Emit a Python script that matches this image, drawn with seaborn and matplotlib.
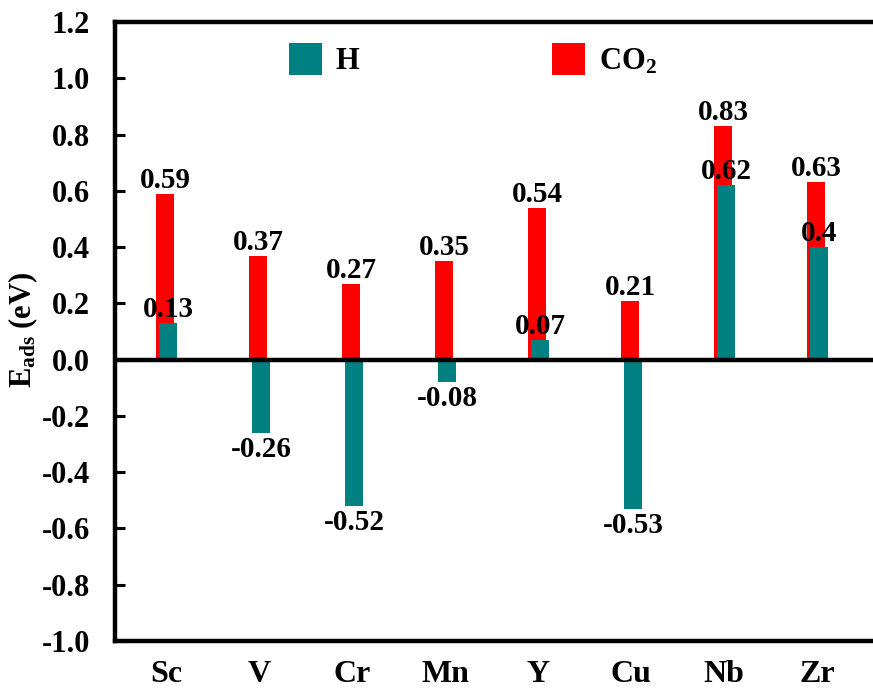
import matplotlib
matplotlib.use("Agg")
import matplotlib.pyplot as plt
from matplotlib.patches import Patch
import seaborn as sns
import pandas as pd
import numpy as np

metals = ["Sc", "V", "Cr", "Mn", "Y", "Cu", "Nb", "Zr"]
h_vals = [0.13, -0.26, -0.52, -0.08, 0.07, -0.53, 0.62, 0.4]
co2_vals = [0.59, 0.37, 0.27, 0.35, 0.54, 0.21, 0.83, 0.63]
yticks = [-1.0, -0.8, -0.6, -0.4, -0.2, 0.0, 0.2, 0.4, 0.6, 0.8, 1.0, 1.2]

RED = "#FF0000"
TEAL = "#008080"

sns.set_style("white")
plt.rcParams["font.family"] = ["Liberation Serif", "DejaVu Serif"]
plt.rcParams["font.weight"] = "bold"
plt.rcParams["text.color"] = "black"
plt.rcParams["axes.labelcolor"] = "black"
plt.rcParams["xtick.color"] = "black"
plt.rcParams["ytick.color"] = "black"
plt.rcParams["mathtext.fontset"] = "custom"
plt.rcParams["mathtext.rm"] = "Liberation Serif:bold"
plt.rcParams["mathtext.bf"] = "Liberation Serif:bold"
plt.rcParams["mathtext.it"] = "Liberation Serif:bold:italic"
plt.rcParams["mathtext.default"] = "rm"

df = pd.DataFrame({"metal": metals, "H": h_vals, "CO2": co2_vals})

fig = plt.figure(figsize=(8.73, 6.95), dpi=100)
ax = fig.add_axes([115 / 873, 54 / 695, 758 / 873, 619 / 695])

sns.barplot(data=df, x="metal", y="CO2", color=RED, width=0.19, saturation=1,
            errorbar=None, ax=ax, zorder=2)
n_red = len(ax.patches)
for p in ax.patches:
    p.set_x(p.get_x() - 0.01)
    p.set_linewidth(0)
sns.barplot(data=df, x="metal", y="H", color=TEAL, width=0.2, saturation=1,
            errorbar=None, ax=ax, zorder=3)
for p in ax.patches[n_red:]:
    p.set_x(p.get_x() + 0.02)
    p.set_linewidth(0)

VFS = 21
# value labels
for i, v in enumerate(co2_vals):
    ax.annotate(f"{v:g}", (i - 0.01, v), xytext=(0, 0), textcoords="offset points",
                ha="center", va="bottom", fontsize=VFS, fontweight="bold", zorder=5)
for i, v in enumerate(h_vals):
    if v >= 0:
        ax.annotate(f"{v:g}", (i + 0.02, v), xytext=(0, 0), textcoords="offset points",
                    ha="center", va="bottom", fontsize=VFS, fontweight="bold", zorder=5)
    else:
        ax.annotate(f"{v:g}", (i + 0.02, v), xytext=(0, -2), textcoords="offset points",
                    ha="center", va="top", fontsize=VFS, fontweight="bold", zorder=5)

ax.axhline(0, color="black", lw=3.2, zorder=4)

ax.set_xlim(-0.55, 7.6)
ax.set_ylim(-1.0, 1.2)
ax.set_yticks(yticks)
ax.set_yticklabels([f"{t:.1f}" for t in yticks])
ax.set_xlabel("")
ax.set_ylabel(r"E$_{\rm ads}$ (eV)", fontsize=22, fontweight="bold")
ax.yaxis.set_label_coords(-0.099, 0.502)

ax.tick_params(axis="y", direction="in", length=7, width=2.2, pad=18, labelsize=22, left=True)
ax.tick_params(axis="x", length=0, pad=14, labelsize=23)
for lab in ax.get_xticklabels() + ax.get_yticklabels():
    lab.set_fontweight("bold")

for s in ["left", "top", "bottom"]:
    ax.spines[s].set_linewidth(3.2)
    ax.spines[s].set_color("black")
ax.spines["right"].set_visible(False)

handles = [Patch(facecolor=TEAL, edgecolor="none", label="H"),
           Patch(facecolor=RED, edgecolor="none", label="CO$_2$")]
ax.legend(handles=handles, ncol=2, frameon=False, loc="center",
          bbox_to_anchor=(0.472, 0.939), handlelength=1.08,
          handleheight=1.2, handletextpad=0.45, columnspacing=6.3,
          prop={"weight": "bold", "size": 22})

fig.savefig("out.png", dpi=100)
